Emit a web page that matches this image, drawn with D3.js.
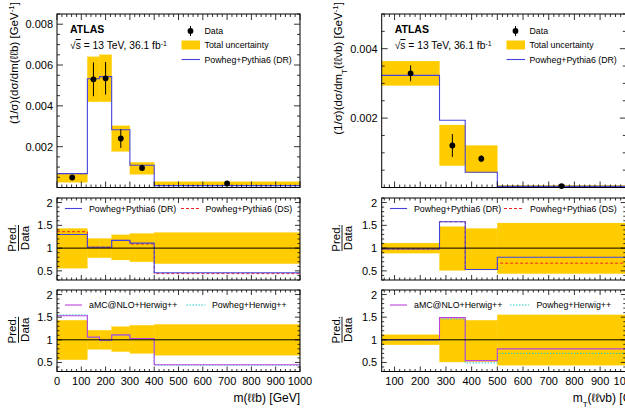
<!DOCTYPE html>
<html><head><meta charset="utf-8">
<script src="https://cdn.jsdelivr.net/npm/d3@7/dist/d3.min.js"></script>
<style>body{margin:0;background:#fff}svg{display:block;font-family:"Liberation Sans",Arial,Helvetica,sans-serif}</style>
</head><body><svg id="c" width="625" height="411"></svg>
<script>
// ---------- data: left, m(llb) ----------
const edgesL = [0,125,175,225,300,400,1000];
const dataL = [0.00049,0.0053,0.00535,0.0024,0.00096,0.0002];
const dataErrL = [0.00006,0.00083,0.0008,0.00046,0.00015,0.00003];
const bandLoL = [0.00026,0.0042,0.0042,0.00177,0.00065,0.00008];
const bandHiL = [0.00068,0.0064,0.0065,0.00302,0.00123,0.00028];
const drL = [0.00068,0.00533,0.00543,0.00283,0.00109,0.00009];
const ratioBandLoL = [0.56,0.79,0.79,0.74,0.70,0.66];
const ratioBandHiL = [1.43,1.21,1.21,1.29,1.32,1.34];
const ratioDRL = [1.30,1.02,1.02,1.17,1.11,0.46];
const ratioDSL = [1.36,1.02,1.02,1.17,1.09,0.44];
const ratioAMCL = [1.53,1.06,0.99,1.11,1.03,0.45];
const ratioPHL = [1.55,1.05,0.98,1.10,1.02,0.44];
const yTicksL = [0.002,0.004,0.006,0.008];
const xTicksL = [0,100,200,300,400,500,600,700,800,900,1000];
// ---------- data: right, mT(llvb) ----------
const edgesR = [50,275,375,500,1000];
const dataR = [0.00329,0.00121,0.00083,0.00004];
const dataErrR = [0.00023,0.00033,0.0001,0.000005];
const bandLoR = [0.00294,0.00063,0.00043,0.000018];
const bandHiR = [0.00364,0.0018,0.00121,0.000062];
const drR = [0.00323,0.00194,0.00044,0.000032];
const ratioBandLoR = [0.89,0.51,0.52,0.44];
const ratioBandHiR = [1.11,1.47,1.43,1.55];
const ratioDRR = [0.98,1.58,0.53,0.80];
const ratioDSR = [0.98,1.58,0.53,0.67];
const ratioAMCR = [1.00,1.49,0.54,0.80];
const ratioPHR = [0.99,1.46,0.49,0.70];
const yTicksR = [0.002,0.004];
const xTicksR = [100,200,300,400,500,600,700,800,900,1000];
const ratioTicks = [0.5,1,1.5,2];

const C = {band:"#ffcc00", dr:"#4444dd", ds:"#ee2222", amc:"#bb44dd", ph:"#22cccc"};
const svg = d3.select("#c");
const mainY = [14,187.5], midY = [198,280], botY = [290,371.5];

function frameTicks(g, xs, ys, xMaj, xMin, yMaj, yMin, majL, minL){
  const [x0,x1] = xs.range(), [y1,y0] = ys.range();
  const t = g.append("g").attr("stroke","#000").attr("stroke-width",0.8);
  const dx = xs.domain();
  const inX = v => v>=Math.min(...dx)-1e-9 && v<=Math.max(...dx)+1e-9;
  xMin.filter(inX).forEach(v=>{const L = xMaj.some(m=>Math.abs(m-v)<1e-9)?majL:minL;
    t.append("line").attr("x1",xs(v)).attr("x2",xs(v)).attr("y1",y1).attr("y2",y1-L);
    t.append("line").attr("x1",xs(v)).attr("x2",xs(v)).attr("y1",y0).attr("y2",y0+L);});
  const dy = ys.domain();
  const inY = v => v>=dy[0]-1e-12 && v<=dy[1]+1e-12;
  yMin.filter(inY).forEach(v=>{const L = yMaj.some(m=>Math.abs(m-v)<1e-9)?majL:minL;
    t.append("line").attr("x1",x0).attr("x2",x0+L).attr("y1",ys(v)).attr("y2",ys(v));
    t.append("line").attr("x1",x1).attr("x2",x1-L).attr("y1",ys(v)).attr("y2",ys(v));});
  g.append("rect").attr("x",x0).attr("y",y0).attr("width",x1-x0).attr("height",y1-y0)
    .attr("fill","none").attr("stroke","#000").attr("stroke-width",1);
}
function stepPath(xs, ys, edges, vals){
  const pts = edges.map((e,i)=>[e, vals[Math.min(i, vals.length-1)]]);
  return d3.line().x(d=>xs(d[0])).y(d=>ys(d[1])).curve(d3.curveStepAfter)(pts);
}
function bands(g, xs, ys, edges, lo, hi){
  g.append("g").selectAll("rect").data(lo).join("rect")
    .attr("x",(d,i)=>xs(edges[i])).attr("width",(d,i)=>xs(edges[i+1])-xs(edges[i]))
    .attr("y",(d,i)=>ys(hi[i])).attr("height",(d,i)=>ys(lo[i])-ys(hi[i]))
    .attr("fill",C.band).attr("stroke",C.band).attr("stroke-width",0.3);
}
function range(a,b,s){const r=[];for(let v=a;v<=b+1e-9;v+=s)r.push(+v.toFixed(6));return r;}

function drawSide(o){
  const g = svg.append("g");
  const xs = d3.scaleLinear().domain(o.xdom).range(o.xr);
  const ym = d3.scaleLinear().domain(o.ydom).range([mainY[1],mainY[0]]);
  const clipId = "clip"+o.id;
  svg.append("clipPath").attr("id",clipId).append("rect").attr("x",o.xr[0]).attr("y",0).attr("width",o.xr[1]-o.xr[0]).attr("height",411);
  // main panel
  const gm = g.append("g").attr("clip-path","url(#"+clipId+")");
  bands(gm, xs, ym, o.edges, o.bandLo, o.bandHi);
  gm.append("path").attr("d",stepPath(xs,ym,o.edges,o.dr)).attr("fill","none").attr("stroke",C.dr).attr("stroke-width",1.1);
  const centers = o.data.map((d,i)=>(o.edges[i]+o.edges[i+1])/2);
  gm.append("g").selectAll("line").data(o.data).join("line")
    .attr("x1",(d,i)=>xs(centers[i])).attr("x2",(d,i)=>xs(centers[i]))
    .attr("y1",(d,i)=>ym(d+o.err[i])).attr("y2",(d,i)=>ym(d-o.err[i])).attr("stroke","#000").attr("stroke-width",1);
  gm.append("g").selectAll("circle").data(o.data).join("circle")
    .attr("cx",(d,i)=>xs(centers[i])).attr("cy",d=>ym(d)).attr("r",2.9).attr("fill","#000");
  frameTicks(g, xs, ym, o.xMaj, range(o.xMinStart,1000,20), o.yTicks, range(0,o.ydom[1],0.0005), 6, 3);
  g.append("g").selectAll("text").data(o.yTicks).join("text").attr("x",o.xr[0]-4).attr("y",d=>ym(d)+4)
    .attr("text-anchor","end").attr("font-size",11).text(d3.format(".3f"));
  // y title
  const yt = g.append("text").attr("transform",`translate(${o.ytx},2) rotate(-90)`).attr("text-anchor","end").attr("font-size",11.5);
  yt.append("tspan").text(o.ytitle);
  if(o.ysub){yt.append("tspan").attr("baseline-shift","sub").attr("font-size",8).text("T");yt.append("tspan").text(o.ytitle2);}
  yt.append("tspan").text(") [GeV");
  yt.append("tspan").attr("baseline-shift","super").attr("font-size",8).text("-1");
  yt.append("tspan").text("]");
  // ATLAS label
  g.append("text").attr("x",o.xr[0]+13).attr("y",33).attr("font-weight","bold").attr("font-size",10.5).text("ATLAS");
  const st = g.append("text").attr("x",o.xr[0]+13).attr("y",49).attr("font-size",10.3);
  st.append("tspan").text("√");
  st.append("tspan").attr("text-decoration","overline").text("s");
  st.append("tspan").text(" = 13 TeV, 36.1 fb");
  st.append("tspan").attr("baseline-shift","super").attr("font-size",7).text("-1");
  // main legend
  const lx = o.legX;
  g.append("line").attr("x1",lx+9).attr("x2",lx+9).attr("y1",26).attr("y2",36).attr("stroke","#000");
  g.append("circle").attr("cx",lx+9).attr("cy",31).attr("r",2.9).attr("fill","#000");
  g.append("rect").attr("x",lx).attr("y",40.5).attr("width",18.5).attr("height",9).attr("fill",C.band);
  g.append("line").attr("x1",lx).attr("x2",lx+18.5).attr("y1",59.5).attr("y2",59.5).attr("stroke",C.dr).attr("stroke-width",1.1);
  const lt = g.append("g").attr("font-size",8.8);
  lt.append("text").attr("x",lx+23).attr("y",34).text("Data");
  lt.append("text").attr("x",lx+23).attr("y",48).text("Total uncertainty");
  lt.append("text").attr("x",lx+23).attr("y",62.5).text("Powheg+Pythia6 (DR)");

  // ratio panels
  [[midY,o.rDR,o.rDS,C.dr,C.ds,"Powheg+Pythia6 (DR)","Powheg+Pythia6 (DS)","3,2",o.leg2X],
   [botY,o.rAMC,o.rPH,C.amc,C.ph,"aMC@NLO+Herwig++","Powheg+Herwig++","1.5,1.5",o.leg3X]].forEach((p,k)=>{
    const yr = d3.scaleLinear().domain([0.3,2.1]).range([p[0][1],p[0][0]]);
    const gr = g.append("g").attr("clip-path","url(#"+clipId+")");
    bands(gr, xs, yr, o.edges, o.rbLo, o.rbHi);
    gr.append("path").attr("d",stepPath(xs,yr,o.edges,p[2])).attr("fill","none").attr("stroke",p[4]).attr("stroke-width",1).attr("stroke-dasharray",p[7]);
    gr.append("path").attr("d",stepPath(xs,yr,o.edges,p[1])).attr("fill","none").attr("stroke",p[3]).attr("stroke-width",1.1);
    gr.append("line").attr("x1",o.xr[0]).attr("x2",o.xr[1]).attr("y1",yr(1)).attr("y2",yr(1)).attr("stroke","#000").attr("stroke-width",1);
    frameTicks(g, xs, yr, o.xMaj, range(o.xMinStart,1000,20), ratioTicks, range(0.3,2.1,0.1), 5, 2.5);
    g.append("g").selectAll("text").data(ratioTicks).join("text").attr("x",o.xr[0]-4.5).attr("y",d=>yr(d)+4)
      .attr("text-anchor","end").attr("font-size",11).text(d=>d);
    // Pred./Data
    const cy = (p[0][0]+p[0][1])/2 - 1;
    const fx = o.fracX;
    g.append("text").attr("transform",`translate(${fx-2.5},${cy}) rotate(-90)`).attr("text-anchor","middle").attr("font-size",11.5).text("Pred.");
    g.append("text").attr("transform",`translate(${fx+10},${cy}) rotate(-90)`).attr("text-anchor","middle").attr("font-size",11.5).text("Data");
    g.append("line").attr("x1",fx).attr("x2",fx).attr("y1",cy-13).attr("y2",cy+13).attr("stroke","#000").attr("stroke-width",0.9);
    // legend
    const ly = p[0][0] + (k===0?10.5:15);
    const [a,b,c2,d2] = p[8];
    g.append("line").attr("x1",a).attr("x2",a+17).attr("y1",ly).attr("y2",ly).attr("stroke",p[3]).attr("stroke-width",1.1);
    g.append("text").attr("x",a+24).attr("y",ly+3).attr("font-size",8.8).text(p[5]);
    g.append("line").attr("x1",c2).attr("x2",c2+19).attr("y1",ly).attr("y2",ly).attr("stroke",p[4]).attr("stroke-width",1).attr("stroke-dasharray",p[7]);
    g.append("text").attr("x",d2).attr("y",ly+3).attr("font-size",8.8).text(p[6]);
  });
  // x tick labels
  const yb = d3.scaleLinear();
  g.append("g").selectAll("text").data(o.xTicks).join("text").attr("x",d=>xs(d)).attr("y",385)
    .attr("text-anchor","middle").attr("font-size",11).text(d=>d);
  const xt = g.append("text").attr("x",o.xtX).attr("y",402).attr("text-anchor","end").attr("font-size",12);
  xt.append("tspan").text("m");
  if(o.ysub){xt.append("tspan").attr("baseline-shift","sub").attr("font-size",8).text("T");}
  xt.append("tspan").text(o.xtitle);
}

drawSide({id:"L", xdom:[0,1000], xr:[57,300], ydom:[0,0.0085], edges:edgesL, data:dataL, err:dataErrL,
  bandLo:bandLoL, bandHi:bandHiL, dr:drL, rbLo:ratioBandLoL, rbHi:ratioBandHiL, rDR:ratioDRL, rDS:ratioDSL,
  rAMC:ratioAMCL, rPH:ratioPHL, yTicks:yTicksL, xTicks:xTicksL, xMaj:xTicksL, xMinStart:0,
  ytx:18, ytitle:"(1/σ)(dσ/dm(ℓℓb", ysub:false, legX:181.5, leg2X:[65,89,181,205.5], leg3X:[65,89,186.5,212],
  fracX:18.5, xtitle:"(ℓℓb) [GeV]", xtX:300});
drawSide({id:"R", xdom:[50,1000], xr:[381.7,625.8], ydom:[0,0.005], edges:edgesR, data:dataR, err:dataErrR,
  bandLo:bandLoR, bandHi:bandHiR, dr:drR, rbLo:ratioBandLoR, rbHi:ratioBandHiR, rDR:ratioDRR, rDS:ratioDSR,
  rAMC:ratioAMCR, rPH:ratioPHR, yTicks:yTicksR, xTicks:xTicksR, xMaj:xTicksR, xMinStart:60,
  ytx:341.5, ytitle:"(1/σ)(dσ/dm", ysub:true, ytitle2:"(ℓℓνb", legX:506.5, leg2X:[390,414,504,530], leg3X:[390,415,510,536.5],
  fracX:342, xtitle:"(ℓℓνb) [GeV]", xtX:650});
</script></body></html>
